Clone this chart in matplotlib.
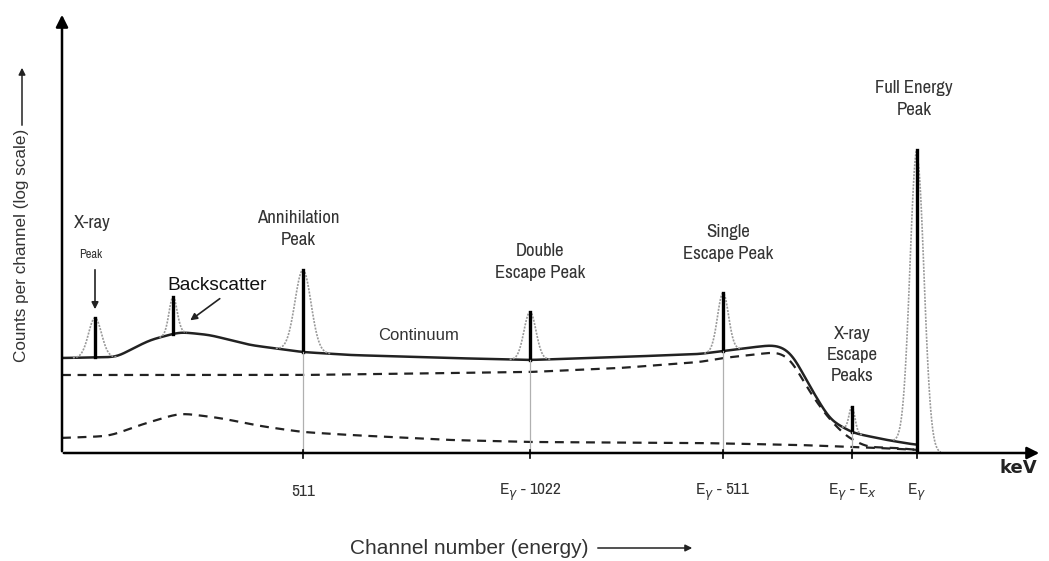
import numpy as np
import matplotlib.pyplot as plt

narrow = ['Archivo Narrow', 'Liberation Sans', 'DejaVu Sans']
regular = ['Liberation Sans', 'DejaVu Sans']
plt.rcParams['font.family'] = narrow

# continuum (solid) traced as channel / level pairs
cont_x = [0, 55, 68, 88, 118, 148, 188, 240, 288, 388, 468, 558, 638, 661,
          693, 711, 723, 733, 743, 753, 768, 791, 825, 855]
cont_y = [95, 96, 103, 113, 121, 118, 108, 101, 98, 95, 93, 96, 99, 102,
          106, 108, 105, 95, 75, 58, 33, 20, 13, 8]

# compton continuum of the primary gamma (upper dashed)
comp_x = [0, 240, 468, 558, 638, 661, 715, 728, 735, 751, 768, 785, 805, 835, 855]
comp_y = [78, 78, 81, 85, 91, 95, 101, 95, 83, 56, 33, 16, 6, 5, 3]

# backscatter / low-energy part (lower dashed)
back_x = [0, 48, 78, 118, 158, 198, 240, 288, 388, 468, 638, 738, 818, 855]
back_y = [15, 17, 28, 40, 35, 27, 21, 18, 13, 11, 10, 8, 5, 3]

# peaks: centre channel, top level, width
peak_names = ['xray', 'backscatter', 'annihilation', 'double', 'single', 'xray_esc', 'full']
peak_c = [33, 111, 241, 468, 661, 790, 855]
peak_top = [135, 156, 183, 141, 160, 46, 303]
peak_w = [6.5, 4, 8, 6, 5.5, 3, 7]

tick_pos = [241, 468, 661, 790, 855]
tick_lab = ['511', r'E$_\gamma$ - 1022', r'E$_\gamma$ - 511', r'E$_\gamma$ - E$_x$', r'E$_\gamma$']

fig = plt.figure(figsize=(10.49, 5.61), dpi=100)
ax = fig.add_axes([62 / 1049, (561 - 453) / 561, 980 / 1049, 441 / 561])
ax.set_xlim(0, 980)
ax.set_ylim(0, 441)
ax.axis('off')

ink = '#222222'
txt = '#333333'


def cont(x):
    return np.interp(x, cont_x, cont_y, right=0)


def smooth(px, py, s=6):
    # dense resample of the traced points, then a gaussian blur to round the corners
    xs = np.arange(px[0], px[-1] + 1, 1.0)
    ys = np.interp(xs, px, py)
    k = np.arange(-3 * s, 3 * s + 1)
    k = np.exp(-k ** 2 / (2 * s ** 2))
    k /= k.sum()
    pad = np.pad(ys, 3 * s, mode='edge')
    return xs, np.convolve(pad, k, mode='valid')


# axes with arrows
ax.annotate('', xy=(980, 0), xytext=(-1, 0), annotation_clip=False,
            arrowprops=dict(arrowstyle='-|>', lw=1.8, color='black', mutation_scale=18))
ax.annotate('', xy=(0, 441), xytext=(0, -1), annotation_clip=False,
            arrowprops=dict(arrowstyle='-|>', lw=1.8, color='black', mutation_scale=18))

sx, sy = smooth(cont_x, cont_y)
ax.plot(sx, sy, color=ink, lw=1.8, solid_capstyle='round')
sx, sy = smooth(comp_x, comp_y)
ax.plot(sx, sy, color=ink, lw=1.6, ls=(0, (4, 3)))
sx, sy = smooth(back_x, back_y, 8)
ax.plot(sx, sy, color=ink, lw=1.6, ls=(0, (4, 3)))

for c, top, w in zip(peak_c, peak_top, peak_w):
    base = cont(c)
    h = top - base
    xs = np.linspace(c - 3.4 * w, c + 3.4 * w, 120)
    ys = cont(xs) + h * np.exp(-(xs - c) ** 2 / (2 * w ** 2))
    ax.plot(xs, ys, color='#9a9a9a', lw=1.2, ls=(0, (1.2, 0.8)))
    if c == peak_c[-1]:
        ax.plot([c, c], [0, top], color='black', lw=2.4)
    else:
        ax.plot([c, c], [base, top], color='black', lw=2.4)

for c in tick_pos[:-1]:
    ax.plot([c, c], [0, cont(c)], color='#b0b0b0', lw=0.9)
for c, lab in zip(tick_pos, tick_lab):
    ax.plot([c, c], [-5, 3], color='black', lw=1.2, clip_on=False)
    ax.text(c, -39, lab, ha='center', va='center', fontsize=12.5, color=txt)

# peak labels
kw = dict(ha='center', va='center', color=txt, fontsize=13.5, linespacing=1.4)
ax.text(30, 230, 'X-ray', **kw)
ax.text(29, 199, 'Peak', ha='center', va='center', color=txt, fontsize=9)
ax.annotate('', xy=(33, 141), xytext=(33, 186),
            arrowprops=dict(arrowstyle='-|>', lw=1.2, color=ink, mutation_scale=10))
ax.text(155, 168, 'Backscatter', ha='center', va='center', color='#111111',
        fontsize=13.8, family=regular)
ax.annotate('', xy=(126, 131), xytext=(160, 156),
            arrowprops=dict(arrowstyle='-|>', lw=1.2, color=ink, mutation_scale=10))
ax.text(236, 224, 'Annihilation\nPeak', **kw)
ax.text(357, 117, 'Continuum', ha='center', va='center', color=txt, fontsize=12,
        family=regular)
ax.text(478, 191, 'Double\nEscape Peak', **kw)
ax.text(666, 210, 'Single\nEscape Peak', **kw)
ax.text(790, 98, 'X-ray\nEscape\nPeaks', **kw)
ax.text(852, 354, 'Full Energy\nPeak', **kw)

ax.text(956, -15, 'keV', ha='center', va='center', fontsize=13, color=ink,
        fontweight='bold', family=['DejaVu Sans'])

# axis titles
ax.text(288, -95, 'Channel number (energy)', ha='left', va='center', fontsize=15,
        color=txt, family=regular)
ax.annotate('', xy=(633, -95), xytext=(533, -95), annotation_clip=False,
            arrowprops=dict(arrowstyle='-|>', lw=1.1, color=ink, mutation_scale=10))
ax.text(-40, 208, 'Counts per channel (log scale)', rotation=90, ha='center', va='center',
        fontsize=12.3, color=txt, family=regular)
ax.annotate('', xy=(-40, 388), xytext=(-40, 325), annotation_clip=False,
            arrowprops=dict(arrowstyle='-|>', lw=1.1, color=ink, mutation_scale=10))

fig.savefig('out.png', dpi=100)
